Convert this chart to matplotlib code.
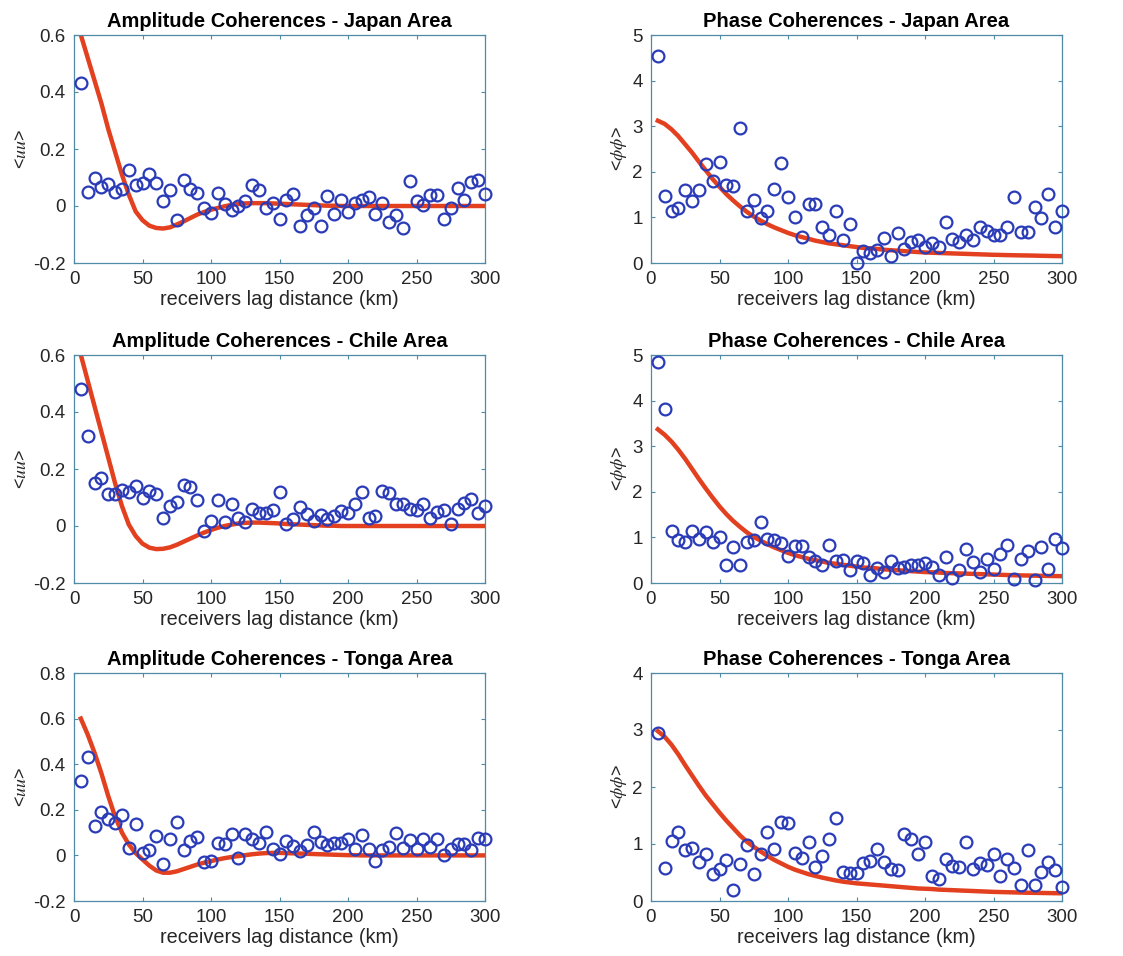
import numpy as np
import matplotlib
matplotlib.use("Agg")
import matplotlib.pyplot as plt
from matplotlib.ticker import FuncFormatter

plt.rcParams["font.family"] = ["Liberation Sans", "DejaVu Sans"]
plt.rcParams["mathtext.fontset"] = "stix"

# receiver lag distances (km), shared by every panel
lag_km = list(range(5, 301, 5))

# measured amplitude coherences <uu>
amp_japan = [
    0.43, 0.049, 0.098, 0.067, 0.077, 0.048, 0.061, 0.125, 0.072, 0.081,
    0.113, 0.082, 0.019, 0.057, -0.050, 0.091, 0.061, 0.046, -0.006, -0.025,
    0.046, 0.008, -0.013, 0.001, 0.019, 0.072, 0.056, -0.007, 0.011, -0.046,
    0.022, 0.041, -0.069, -0.030, -0.007, -0.069, 0.034, -0.027, 0.022, -0.020,
    0.011, 0.022, 0.032, -0.028, 0.011, -0.057, -0.030, -0.077, 0.089, 0.016,
    0.005, 0.037, 0.037, -0.046, -0.007, 0.063, 0.022, 0.083, 0.092, 0.042,
]
amp_chile = [
    0.482, 0.317, 0.151, 0.169, 0.113, 0.113, 0.128, 0.119, 0.140, 0.097,
    0.122, 0.113, 0.029, 0.070, 0.084, 0.145, 0.137, 0.090, -0.017, 0.017,
    0.090, 0.015, 0.076, 0.029, 0.015, 0.058, 0.045, 0.047, 0.055, 0.120,
    0.006, 0.026, 0.066, 0.043, 0.017, 0.038, 0.023, 0.035, 0.052, 0.047,
    0.076, 0.119, 0.029, 0.035, 0.122, 0.116, 0.076, 0.076, 0.058, 0.055,
    0.076, 0.029, 0.050, 0.055, 0.006, 0.058, 0.081, 0.095, 0.047, 0.070,
]
amp_tonga = [
    0.326, 0.432, 0.131, 0.190, 0.158, 0.143, 0.177, 0.031, 0.136, 0.012,
    0.022, 0.085, -0.037, 0.070, 0.147, 0.022, 0.063, 0.080, -0.028, -0.025,
    0.055, 0.051, 0.095, -0.013, 0.092, 0.070, 0.053, 0.104, 0.026, 0.004,
    0.063, 0.041, 0.019, 0.045, 0.102, 0.060, 0.044, 0.053, 0.053, 0.074,
    0.026, 0.089, 0.026, -0.025, 0.023, 0.036, 0.099, 0.034, 0.066, 0.026,
    0.074, 0.036, 0.070, 0.000, 0.026, 0.048, 0.048, 0.022, 0.077, 0.073,
]

# measured phase coherences <phi phi>
phase_japan = [
    4.55, 1.47, 1.14, 1.20, 1.61, 1.35, 1.61, 2.17, 1.79, 2.21,
    1.72, 1.68, 2.97, 1.15, 1.39, 0.99, 1.13, 1.63, 2.19, 1.44,
    1.00, 0.57, 1.30, 1.30, 0.78, 0.61, 1.15, 0.50, 0.86, 0.00,
    0.27, 0.22, 0.29, 0.55, 0.16, 0.66, 0.31, 0.47, 0.50, 0.35,
    0.44, 0.36, 0.89, 0.53, 0.46, 0.62, 0.51, 0.78, 0.71, 0.62,
    0.62, 0.78, 1.44, 0.67, 0.67, 1.23, 0.99, 1.51, 0.78, 1.15,
]
phase_chile = [
    4.85, 3.81, 1.14, 0.95, 0.90, 1.15, 0.96, 1.11, 0.90, 1.00,
    0.40, 0.79, 0.40, 0.90, 0.95, 1.33, 0.96, 0.95, 0.87, 0.60,
    0.82, 0.82, 0.58, 0.49, 0.40, 0.84, 0.49, 0.51, 0.29, 0.49,
    0.44, 0.18, 0.33, 0.25, 0.49, 0.33, 0.36, 0.39, 0.40, 0.44,
    0.36, 0.17, 0.58, 0.11, 0.28, 0.75, 0.47, 0.25, 0.52, 0.31,
    0.63, 0.84, 0.09, 0.52, 0.71, 0.07, 0.78, 0.31, 0.96, 0.76,
]
phase_tonga = [
    2.94, 0.58, 1.05, 1.21, 0.89, 0.93, 0.69, 0.82, 0.47, 0.57,
    0.72, 0.20, 0.65, 0.99, 0.48, 0.82, 1.21, 0.92, 1.39, 1.36,
    0.85, 0.76, 1.04, 0.60, 0.79, 1.08, 1.46, 0.51, 0.50, 0.50,
    0.66, 0.70, 0.92, 0.69, 0.57, 0.55, 1.18, 1.09, 0.83, 1.03,
    0.44, 0.38, 0.73, 0.62, 0.60, 1.03, 0.57, 0.67, 0.64, 0.82,
    0.43, 0.74, 0.58, 0.28, 0.89, 0.28, 0.51, 0.68, 0.55, 0.25,
]

# fitted model curves, sampled at the same lags
amp_fit_japan = [
    0.60, 0.52, 0.44, 0.36, 0.27, 0.19, 0.11, 0.04, -0.019, -0.050,
    -0.069, -0.077, -0.079, -0.075, -0.065, -0.054, -0.042, -0.030, -0.021, -0.013,
    -0.007, -0.001, 0.004, 0.007, 0.009, 0.010, 0.010, 0.010, 0.009, 0.008,
    0.007, 0.006, 0.005, 0.004, 0.003, 0.002, 0.001, 0.001, 0.000, 0.000,
    0.000, 0.000, 0.000, 0.000, 0.000, 0.000, 0.000, 0.000, 0.000, 0.000,
    0.000, 0.000, 0.000, 0.000, 0.000, 0.000, 0.000, 0.000, 0.000, 0.000,
]
amp_fit_chile = [
    0.60, 0.51, 0.42, 0.33, 0.24, 0.15, 0.07, 0.005, -0.035, -0.062,
    -0.076, -0.081, -0.080, -0.075, -0.066, -0.055, -0.044, -0.033, -0.023, -0.014,
    -0.006, 0.000, 0.005, 0.009, 0.011, 0.012, 0.012, 0.011, 0.010, 0.009,
    0.007, 0.006, 0.005, 0.004, 0.003, 0.002, 0.001, 0.001, 0.000, 0.000,
    0.000, 0.000, 0.000, 0.000, 0.000, 0.000, 0.000, 0.000, 0.000, 0.000,
    0.000, 0.000, 0.000, 0.000, 0.000, 0.000, 0.000, 0.000, 0.000, 0.000,
]
amp_fit_tonga = [
    0.60, 0.53, 0.45, 0.36, 0.26, 0.17, 0.10, 0.048, 0.010, -0.018,
    -0.045, -0.066, -0.076, -0.076, -0.070, -0.060, -0.050, -0.040, -0.032, -0.025,
    -0.018, -0.012, -0.007, -0.003, 0.001, 0.005, 0.008, 0.010, 0.011, 0.011,
    0.010, 0.009, 0.008, 0.007, 0.006, 0.005, 0.004, 0.003, 0.002, 0.001,
    0.001, 0.000, 0.000, 0.000, 0.000, 0.000, 0.000, 0.000, 0.000, 0.000,
    0.000, 0.000, 0.000, 0.000, 0.000, 0.000, 0.000, 0.000, 0.000, 0.000,
]
phase_fit_japan = [
    3.12, 3.05, 2.93, 2.78, 2.60, 2.42, 2.22, 2.03, 1.84, 1.67,
    1.51, 1.37, 1.24, 1.12, 1.02, 0.93, 0.85, 0.78, 0.72, 0.66,
    0.61, 0.57, 0.53, 0.49, 0.46, 0.43, 0.41, 0.39, 0.37, 0.35,
    0.33, 0.32, 0.31, 0.29, 0.28, 0.27, 0.26, 0.25, 0.24, 0.23,
    0.225, 0.22, 0.215, 0.21, 0.205, 0.20, 0.195, 0.19, 0.185, 0.18,
    0.177, 0.173, 0.17, 0.167, 0.165, 0.162, 0.158, 0.155, 0.152, 0.15,
]
phase_fit_chile = [
    3.37, 3.25, 3.10, 2.92, 2.72, 2.50, 2.28, 2.07, 1.87, 1.68,
    1.51, 1.36, 1.23, 1.11, 1.01, 0.93, 0.85, 0.78, 0.72, 0.66,
    0.61, 0.57, 0.53, 0.50, 0.47, 0.44, 0.42, 0.40, 0.38, 0.36,
    0.34, 0.33, 0.32, 0.30, 0.29, 0.28, 0.27, 0.26, 0.25, 0.24,
    0.235, 0.23, 0.22, 0.215, 0.21, 0.205, 0.20, 0.195, 0.19, 0.185,
    0.18, 0.175, 0.17, 0.167, 0.164, 0.161, 0.158, 0.155, 0.152, 0.15,
]
phase_fit_tonga = [
    2.98, 2.88, 2.74, 2.57, 2.38, 2.20, 2.02, 1.85, 1.70, 1.55,
    1.41, 1.28, 1.15, 1.04, 0.95, 0.87, 0.79, 0.72, 0.66, 0.60,
    0.55, 0.51, 0.47, 0.44, 0.41, 0.385, 0.36, 0.34, 0.325, 0.31,
    0.30, 0.29, 0.28, 0.27, 0.26, 0.25, 0.24, 0.23, 0.22, 0.215,
    0.21, 0.20, 0.195, 0.19, 0.185, 0.18, 0.175, 0.17, 0.165, 0.16,
    0.157, 0.154, 0.151, 0.148, 0.145, 0.143, 0.141, 0.139, 0.137, 0.135,
]

areas = ["Japan", "Chile", "Tonga"]
amp_obs = [amp_japan, amp_chile, amp_tonga]
amp_fit = [amp_fit_japan, amp_fit_chile, amp_fit_tonga]
phase_obs = [phase_japan, phase_chile, phase_tonga]
phase_fit = [phase_fit_japan, phase_fit_chile, phase_fit_tonga]
amp_ylims = [(-0.2, 0.6), (-0.2, 0.6), (-0.2, 0.8)]
phase_ylims = [(0, 5), (0, 5), (0, 4)]

W, H = 1123, 956
AX_COLOR = "#4f8aa6"
TXT_COLOR = "#262626"
DOT_COLOR = "#2a3bb8"
FIT_COLOR = "#e2401f"


def style_axis(ax, ylim, ystep, ylabel, title):
    ax.set_xlim(0, 300)
    ax.set_ylim(*ylim)
    ax.set_xticks(np.arange(0, 301, 50))
    ax.set_yticks(np.arange(ylim[0], ylim[1] + 1e-9, ystep))
    ax.yaxis.set_major_formatter(FuncFormatter(lambda v, p: "%g" % round(v, 3)))
    ax.tick_params(direction="in", top=True, right=True, length=3, width=0.8,
                   color=AX_COLOR, labelcolor=TXT_COLOR, labelsize=13.5, pad=6)
    for sp in ax.spines.values():
        sp.set_color(AX_COLOR)
        sp.set_linewidth(0.9)
    ax.set_xlabel("receivers lag distance (km)", fontsize=14.3, color=TXT_COLOR,
                  labelpad=1)
    ax.set_ylabel(ylabel, fontsize=13, color=TXT_COLOR, labelpad=2)
    ax.set_title(title, fontsize=14.5, fontweight="bold", color="black", pad=6)


def draw_panel(ax, obs, fit):
    ax.plot(lag_km, fit, color=FIT_COLOR, lw=3.2, zorder=2)
    ax.plot(lag_km, obs, "o", mfc="none", mec=DOT_COLOR, mew=1.6,
            ms=8.5, zorder=3, clip_on=False)


fig = plt.figure(figsize=(W / 100, H / 100), dpi=100)

ax_w, ax_h = 411 / W, 228 / H
lefts = [74 / W, 651 / W]
tops = [35, 355, 673]

for row in range(3):
    bottom = 1 - (tops[row] + 228) / H

    ax = fig.add_axes([lefts[0], bottom, ax_w, ax_h])
    draw_panel(ax, amp_obs[row], amp_fit[row])
    style_axis(ax, amp_ylims[row], 0.2, r"<$uu$>",
               "Amplitude Coherences - %s Area" % areas[row])

    ax = fig.add_axes([lefts[1], bottom, ax_w, ax_h])
    draw_panel(ax, phase_obs[row], phase_fit[row])
    style_axis(ax, phase_ylims[row], 1, r"<$\phi\phi$>",
               "Phase Coherences - %s Area" % areas[row])

fig.savefig("out.png", dpi=100)
